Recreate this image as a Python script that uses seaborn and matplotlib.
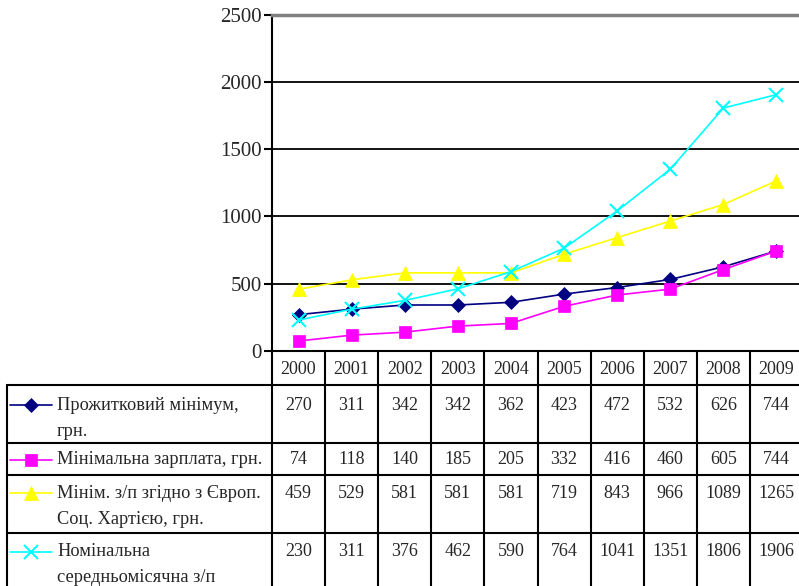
import matplotlib
matplotlib.use("Agg")
import matplotlib.pyplot as plt
from matplotlib.lines import Line2D
import seaborn as sns
import pandas as pd

years = ["2000", "2001", "2002", "2003", "2004", "2005", "2006", "2007", "2008", "2009"]
labels = ["Прожитковий мінімум,\nгрн.",
          "Мінімальна зарплата, грн.",
          "Мінім. з/п згідно з Європ.\nСоц. Хартією, грн.",
          "Номінальна\nсередньомісячна з/п"]
living_min = [270, 311, 342, 342, 362, 423, 472, 532, 626, 744]
min_wage = [74, 118, 140, 185, 205, 332, 416, 460, 605, 744]
euro_min = [459, 529, 581, 581, 581, 719, 843, 966, 1089, 1265]
nominal = [230, 311, 376, 462, 590, 764, 1041, 1351, 1806, 1906]
series = [living_min, min_wage, euro_min, nominal]
colors = ["#000080", "#FF00FF", "#FFFF00", "#00FFFF"]
markers = ["D", "s", "^", "x"]
msizes = [7.5, 8.5, 10, 10]
yticks = [0, 500, 1000, 1500, 2000, 2500]

sns.set_style("white")
FAM = ["Liberation Serif", "DejaVu Serif"]
plt.rcParams["font.family"] = FAM

W, H = 799, 586
fig = plt.figure(figsize=(W / 100, H / 100), dpi=100)

def fx(x):
    return x / W

def fy(y):
    return 1 - y / H

# axes geometry (pixels)
L, R, T, B = 272, 803, 14.7, 351
ax = fig.add_axes([fx(L), fy(B), fx(R) - fx(L), fy(T) - fy(B)])

xs = list(range(len(years)))
for vals, c, m, ms in zip(series, colors, markers, msizes):
    df = pd.DataFrame({"x": xs, "y": vals})
    sns.lineplot(data=df, x="x", y="y", ax=ax, color=c, marker=m, markersize=ms,
                 markeredgecolor=c, markeredgewidth=1.5 if m == "x" else 0.5,
                 linewidth=1.2, zorder=3)

ax.set_xlim(-0.5, len(years) - 0.5)
ax.set_ylim(yticks[0], yticks[-1])
ax.set_yticks(yticks)
ax.set_yticklabels([str(v) for v in yticks], fontsize=15, family=FAM)
ax.set_xticks([])
ax.set_xlabel("")
ax.set_ylabel("")
for v in yticks[1:-1]:
    ax.axhline(v, color="black", linewidth=1.3, zorder=1)
ax.spines["right"].set_visible(False)
ax.spines["top"].set_color("#808080")
ax.spines["top"].set_linewidth(2.5)
ax.spines["left"].set_color("black")
ax.spines["left"].set_linewidth(1.5)
ax.spines["bottom"].set_color("black")
ax.spines["bottom"].set_linewidth(1.5)
ax.tick_params(axis="y", direction="out", length=6, width=1.5, color="black", pad=1.5, left=True)

# ---- data table below ----
colw = 53.1
col_edges = [L + i * colw for i in range(len(years) + 1)]
row_edges = [385, 442.7, 475, 532.7]
table_left = 7
bottom_px = 600
lw = 1.5

def hline(y, x0, x1):
    fig.add_artist(Line2D([fx(x0), fx(x1)], [fy(y), fy(y)], color="black", linewidth=lw))

def vline(x, y0, y1):
    fig.add_artist(Line2D([fx(x), fx(x)], [fy(y0), fy(y1)], color="black", linewidth=lw))

for y in row_edges:
    hline(y, table_left, R)
for x in col_edges:
    vline(x, B, bottom_px)
vline(table_left, row_edges[0], bottom_px)

# header years
for i, yr in enumerate(years):
    fig.text(fx(col_edges[i] + colw / 2), fy(369), yr, ha="center", va="center",
             fontsize=13, family=FAM)

first_line_y = [405, 460, 493, 552]
line_gap = 26
for r, (lab, vals, c, m, ms) in enumerate(zip(labels, series, colors, markers, msizes)):
    yc = first_line_y[r]
    # legend key
    fig.add_artist(Line2D([fx(10), fx(52)], [fy(yc), fy(yc)], color=c, linewidth=1.2))
    fig.add_artist(Line2D([fx(31)], [fy(yc)], color=c, marker=m, markersize=ms,
                          markeredgecolor=c, markeredgewidth=1.5 if m == "x" else 0.5,
                          linestyle="none"))
    for k, line in enumerate(lab.split("\n")):
        fig.text(fx(57), fy(yc + k * line_gap), line, ha="left", va="center",
                 fontsize=13.2, family=FAM)
    for i, v in enumerate(vals):
        fig.text(fx(col_edges[i] + colw / 2), fy(yc), str(v), ha="center", va="center",
                 fontsize=13, family=FAM)

fig.savefig("out.png", dpi=100)
